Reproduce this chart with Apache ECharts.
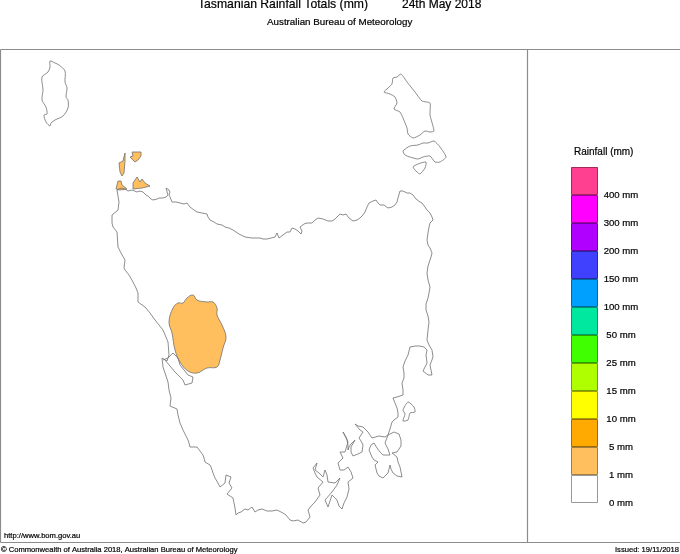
<!DOCTYPE html>
<html>
<head>
<meta charset="utf-8">
<style>
html, body { margin: 0; padding: 0; background: #fff; }
#chart { width: 680px; height: 554px; }
</style>
<script src="https://cdn.jsdelivr.net/npm/echarts@6/dist/echarts.min.js"></script>
</head>
<body>
<div id="chart"></div>
<script>
// coastlines (map units, y grows downwards)
const mainland = [[117,190],[121,188],[125,189],[128,191],[132,190],[137,192],[140,191],[143,192],[146,195],[148,196],[151,199],[153,200],[157,199],[159,198],[163,198],[166,197],[168,195],[166,188],[169,190],[170,192],[169,195],[170,197],[172,202],[176,202],[180,203],[184,204],[187,203],[190,207],[194,210],[197,212],[202,213],[207,214],[208,217],[210,220],[214,222],[217,224],[222,225],[225,227],[229,228],[233,230],[239,234],[245,237],[252,238],[260,238],[263,239],[267,239],[271,238],[275,237],[277,233],[279,238],[283,235],[287,232],[290,232],[292,228],[295,229],[298,231],[301,234],[302,231],[300,227],[304,224],[307,223],[312,223],[315,220],[318,218],[323,219],[328,221],[332,221],[335,219],[338,216],[340,214],[343,215],[346,214],[349,218],[353,221],[357,220],[360,218],[363,215],[365,212],[367,207],[369,203],[373,201],[376,200],[378,203],[380,205],[384,205],[388,208],[392,207],[395,205],[397,202],[398,198],[400,191],[403,191],[407,193],[410,193],[413,195],[416,199],[420,202],[422,203],[425,207],[427,210],[430,213],[432,217],[433,220],[430,223],[429,227],[428,233],[427,240],[428,245],[430,248],[432,253],[431,257],[430,260],[428,266],[427,273],[428,280],[430,287],[429,293],[428,298],[426,304],[426,310],[428,316],[429,322],[428,330],[427,340],[429,345],[432,350],[433,357],[430,365],[432,375],[428,375],[423,371],[425,367],[427,363],[426,355],[427,350],[424,347],[420,346],[415,346],[410,347],[409,351],[408,355],[405,361],[403,367],[404,373],[404,378],[402,383],[403,390],[403,395],[397,397],[393,398],[395,403],[397,408],[398,413],[398,417],[394,420],[392,422],[390,429],[388,435],[394,432],[399,434],[401,440],[401,446],[397,452],[392,453],[397,457],[398,462],[400,467],[402,477],[397,476],[393,473],[391,469],[390,465],[388,473],[383,478],[379,476],[377,473],[375,465],[378,462],[374,460],[372,457],[369,450],[371,445],[374,443],[377,448],[380,452],[383,455],[390,455],[388,449],[385,443],[388,435],[385,437],[379,436],[372,438],[368,432],[363,427],[358,426],[355,424],[360,430],[363,432],[359,438],[361,441],[363,445],[362,452],[358,454],[353,456],[351,452],[351,447],[355,440],[351,444],[349,447],[348,450],[348,445],[347,440],[343,432],[346,437],[348,442],[345,452],[340,452],[343,458],[338,463],[340,470],[344,470],[348,467],[351,472],[353,478],[348,482],[349,489],[347,497],[344,503],[342,509],[339,506],[337,500],[332,495],[330,501],[328,507],[325,500],[332,492],[337,485],[340,478],[335,483],[328,482],[327,475],[325,470],[323,477],[319,473],[315,470],[317,463],[313,468],[315,473],[317,477],[323,482],[318,488],[320,495],[315,502],[312,505],[308,510],[310,517],[306,522],[303,523],[298,520],[293,521],[290,520],[286,515],[283,513],[277,510],[272,511],[267,511],[262,509],[258,510],[255,512],[252,507],[248,510],[245,509],[241,512],[238,513],[236,515],[235,508],[233,498],[227,494],[232,488],[229,483],[231,477],[226,475],[225,483],[220,487],[218,483],[215,478],[213,473],[211,467],[210,465],[205,462],[204,458],[203,455],[200,451],[197,447],[190,447],[189,443],[188,440],[185,434],[183,430],[180,423],[178,415],[177,409],[170,406],[171,398],[169,390],[168,382],[165,373],[163,367],[162,358],[167,361],[169,355],[168,342],[163,330],[155,320],[150,313],[145,307],[138,302],[138,293],[136,288],[133,282],[129,275],[125,270],[124,268],[125,260],[121,253],[118,247],[117,232],[113,227],[112,223],[112,215],[118,210],[119,202]];
const macquarieHarbour = [[163,360],[168,358],[173,353],[178,358],[180,365],[188,375],[193,377],[192,383],[185,385],[183,380],[175,372],[165,360]];
const kingIsland = [[50,61],[55,63],[59,65],[65,71],[65,82],[67,88],[66,97],[68,100],[68,108],[63,116],[55,120],[51,123],[50,126],[46,122],[44,115],[47,114],[46,107],[42,100],[43,90],[42,77],[48,72],[50,67]];
const flindersIsland = [[401,74],[407,82],[415,92],[422,101],[430,103],[430,115],[434,131],[430,132],[425,131],[420,135],[413,138],[408,134],[407,128],[403,118],[400,112],[394,109],[397,103],[395,97],[390,94],[384,92],[388,88],[392,84],[393,78],[397,77]];
const capeBarrenIsland = [[434,141],[440,147],[446,157],[440,162],[435,162],[430,156],[423,157],[418,159],[410,157],[405,155],[403,151],[410,146],[418,145],[423,143],[428,143]];
const clarkeIsland = [[426,162],[425,168],[420,174],[417,172],[413,167],[418,164]];
const mariaIsland = [[408,402],[414,407],[415,412],[410,413],[408,420],[403,421],[405,414],[403,410]];

// rainfall areas, 1-5 mm
const rainWest = [[193,295],[197,300],[207,302],[213,302],[217,308],[217,315],[222,325],[226,337],[223,348],[220,360],[217,367],[207,368],[197,373],[188,371],[180,362],[175,350],[172,333],[169,322],[173,308],[178,303],[183,303],[187,298]];
const rainHunter = [[125,153],[125,161],[124,173],[122,176],[120,172],[119,163],[123,161],[124,157]];
const rainRobbins = [[132,152],[141,152],[141,156],[138,160],[135,162],[130,157],[133,156]];
const rainWoolnorth = [[118,181],[121,181],[122,185],[127,189],[120,190],[116,189]];
const rainPerkins = [[137,177],[140,182],[142,179],[145,183],[150,186],[142,188],[133,189],[133,183]];

// legend, bottom band first
const bandLabels = ['0 mm', '1 mm', '5 mm', '10 mm', '15 mm', '25 mm', '50 mm', '100 mm', '150 mm', '200 mm', '300 mm', '400 mm', ''];
const bandColors = ['#ffffff', '#ffbf5f', '#ffaa00', '#ffff00', '#b0ff00', '#40ff00', '#00e8a0', '#00a0ff', '#4040ff', '#b000ff', '#ff00ff', '#ff4090'];
const bandEdges = ['#999999', '#a08040', '#a06a00', '#a0a000', '#70a000', '#28a000', '#00966a', '#0068a0', '#2828a0', '#7000a0', '#a000a0', '#a02a5c'];

const FONT = '"Liberation Sans", Arial, sans-serif';

function outline(points, fill, closed, smooth) {
    return {
        type: 'custom',
        coordinateSystem: 'cartesian2d',
        xAxisIndex: 0,
        yAxisIndex: 0,
        silent: true,
        animation: false,
        clip: false,
        data: points,
        renderItem: function (params, api) {
            if (params.dataIndex !== 0) {
                return null;
            }
            return {
                type: closed ? 'polygon' : 'polyline',
                shape: { points: points.map(function (p) { return api.coord(p); }), smooth: smooth },
                style: { fill: fill, stroke: '#707070', lineWidth: 0.8 }
            };
        }
    };
}

function frameLine(x1, y1, x2, y2) {
    return {
        type: 'line',
        silent: true,
        shape: { x1: x1, y1: y1, x2: x2, y2: y2 },
        style: { stroke: '#8c8c8c', lineWidth: 1.2 }
    };
}

function label(text, left, top, size) {
    return {
        text: text,
        left: left,
        top: top,
        padding: 0,
        textStyle: { fontFamily: FONT, fontSize: size, fontWeight: 'normal', color: '#000', textBorderColor: '#000', textBorderWidth: 0.2 }
    };
}

const myChart = echarts.init(document.getElementById('chart'), null, { renderer: 'canvas' });

const series = [
    outline(rainWest, '#ffbf5f', true, 0.4),
    outline(rainHunter, '#ffbf5f', true, 0),
    outline(rainRobbins, '#ffbf5f', true, 0),
    outline(rainWoolnorth, '#ffbf5f', true, 0),
    outline(rainPerkins, '#ffbf5f', true, 0),
    outline(mainland, 'none', true, 0),
    outline(macquarieHarbour, 'none', false, 0),
    outline(kingIsland, 'none', true, 0.3),
    outline(flindersIsland, 'none', true, 0.2),
    outline(capeBarrenIsland, 'none', true, 0.2),
    outline(clarkeIsland, 'none', true, 0.2),
    outline(mariaIsland, 'none', true, 0.2)
];

bandColors.forEach(function (color, i) {
    series.push({
        type: 'bar',
        xAxisIndex: 1,
        yAxisIndex: 1,
        stack: 'legend',
        barWidth: '100%',
        silent: true,
        animation: false,
        itemStyle: { color: color, borderColor: bandEdges[i], borderWidth: 1 },
        data: [1]
    });
});

const option = {
    backgroundColor: '#ffffff',
    title: [
        label('Tasmanian Rainfall Totals (mm)', 198, -1, 12.2),
        label('24th May 2018', 402, -1, 12),
        label('Australian Bureau of Meteorology', 267, 17, 9.8),
        label('Rainfall (mm)', 574, 147, 10),
        label('http://www.bom.gov.au', 4, 532, 7.6),
        label('© Commonwealth of Australia 2018, Australian Bureau of Meteorology', 1, 546, 7.6),
        label('Issued: 19/11/2018', 615, 546, 7.6)
    ],
    grid: [
        { left: 0, top: 49, width: 527, height: 493 },
        { left: 571, top: 167, width: 27, height: 336 }
    ],
    xAxis: [
        { type: 'value', gridIndex: 0, min: 0, max: 527, show: false },
        { type: 'category', gridIndex: 1, data: ['rain'], show: false }
    ],
    yAxis: [
        { type: 'value', gridIndex: 0, min: 49, max: 542, inverse: true, show: false },
        {
            type: 'value',
            gridIndex: 1,
            min: 0,
            max: 12,
            interval: 1,
            position: 'right',
            axisLine: { show: false },
            axisTick: { show: false },
            splitLine: { show: false },
            axisLabel: {
                align: 'center',
                margin: 23,
                padding: [2, 0, 0, 0],
                fontFamily: FONT,
                fontSize: 9.6,
                color: '#000',
                textBorderColor: '#000',
                textBorderWidth: 0.2,
                formatter: function (v) { return bandLabels[v]; }
            }
        }
    ],
    graphic: [
        frameLine(0.5, 49.5, 680, 49.5),
        frameLine(0.5, 49.5, 0.5, 542.5),
        frameLine(527.5, 49.5, 527.5, 542.5),
        frameLine(0.5, 542.5, 680, 542.5)
    ],
    series: series
};
myChart.setOption(option);
</script>
</body>
</html>
